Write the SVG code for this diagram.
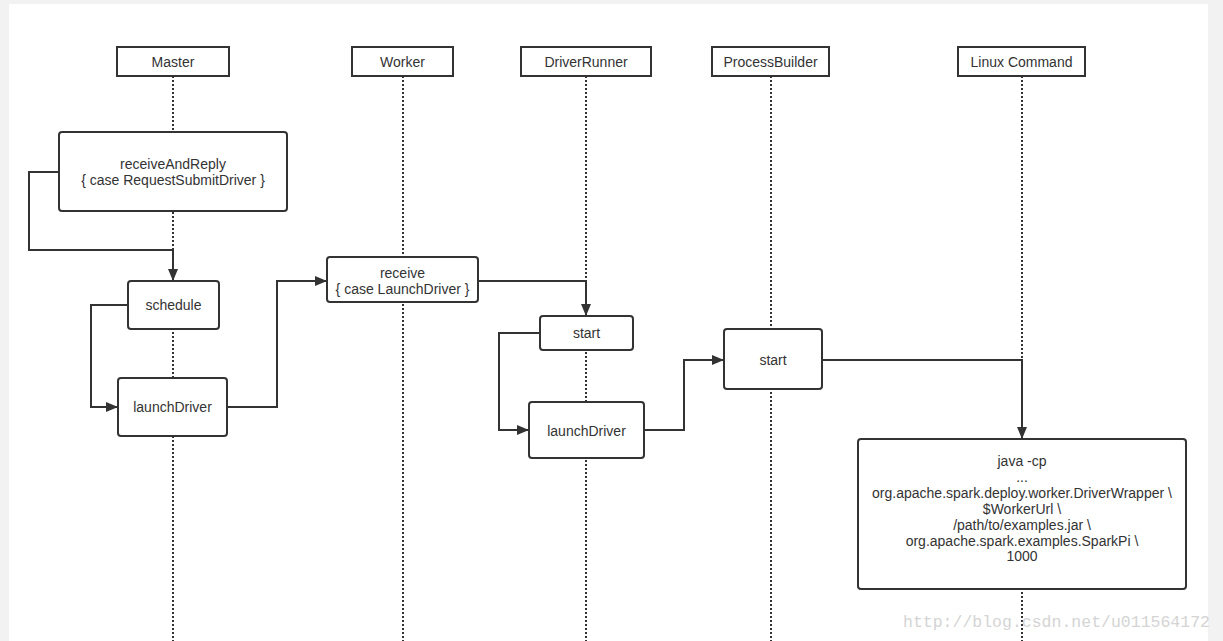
<svg xmlns="http://www.w3.org/2000/svg" width="1223" height="641" viewBox="0 0 1223 641">
<defs>
<marker id="arr" viewBox="0 0 12 10" refX="12" refY="5" markerWidth="12" markerHeight="10" markerUnits="userSpaceOnUse" orient="auto">
<path d="M0,0 L12,5 L0,10 z" fill="#333"/>
</marker>
<style>
.bg{fill:#f2f2f2}
.canvas{fill:#fff}
.head{fill:#fff;stroke:#333;stroke-width:2}
.box{fill:#fff;stroke:#333;stroke-width:2}
.life{stroke:#333;stroke-width:2;stroke-dasharray:2 2;fill:none}
.conn{stroke:#333;stroke-width:2;fill:none;marker-end:url(#arr)}
text{font-family:"Liberation Sans",Arial,sans-serif;font-size:14px;fill:#333;text-anchor:middle}
.wm{font-family:"Liberation Mono","Courier New",monospace;font-size:16.5px;fill:#d4d4d4;text-anchor:start}
</style>
</defs>
<rect class="bg" x="0" y="0" width="1223" height="641"/>
<rect class="canvas" x="9" y="4" width="1199" height="637"/>
<g id="lifelines">
<line class="life" x1="173" y1="76" x2="173" y2="641"/>
<line class="life" x1="403" y1="76" x2="403" y2="641"/>
<line class="life" x1="586" y1="76" x2="586" y2="641"/>
<line class="life" x1="771" y1="76" x2="771" y2="641"/>
<line class="life" x1="1022" y1="76" x2="1022" y2="641"/>
</g>
<g id="master"><rect class="head" x="117" y="47" width="112" height="29"/><text x="173" y="67">Master</text></g>
<g id="worker"><rect class="head" x="352" y="47" width="101" height="29"/><text x="402.5" y="67">Worker</text></g>
<g id="driverrunner"><rect class="head" x="521" y="47" width="130" height="29"/><text x="586" y="67">DriverRunner</text></g>
<g id="processbuilder"><rect class="head" x="712" y="47" width="117" height="29"/><text x="770.5" y="67">ProcessBuilder</text></g>
<g id="linuxcommand"><rect class="head" x="958" y="47" width="127" height="29"/><text x="1021.5" y="67">Linux Command</text></g>
<g id="receiveAndReply"><rect class="box" x="59" y="132" width="228" height="79" rx="3"/><text x="173" y="169">receiveAndReply</text><text x="173" y="185">{ case RequestSubmitDriver }</text></g>
<g id="schedule"><rect class="box" x="128" y="281" width="91" height="48" rx="3"/><text x="173.5" y="310">schedule</text></g>
<g id="launchDriverMaster"><rect class="box" x="118" y="378" width="109" height="58" rx="3"/><text x="172.5" y="412">launchDriver</text></g>
<g id="receive"><rect class="box" x="327" y="257" width="151" height="45" rx="3"/><text x="402.5" y="278">receive</text><text x="402.5" y="294">{ case LaunchDriver }</text></g>
<g id="startDR"><rect class="box" x="540" y="316" width="93" height="34" rx="3"/><text x="586.5" y="338">start</text></g>
<g id="launchDriverDR"><rect class="box" x="529" y="402" width="115" height="56" rx="3"/><text x="586.5" y="436">launchDriver</text></g>
<g id="startPB"><rect class="box" x="724" y="329" width="98" height="60" rx="3"/><text x="773" y="365">start</text></g>
<g id="javacmd"><rect class="box" x="858" y="439" width="328" height="150" rx="3"/>
<text x="1022" y="466">java -cp</text>
<text x="1022" y="482">...</text>
<text x="1022" y="498">org.apache.spark.deploy.worker.DriverWrapper \</text>
<text x="1022" y="514">$WorkerUrl \</text>
<text x="1022" y="530">/path/to/examples.jar \</text>
<text x="1022" y="546">org.apache.spark.examples.SparkPi \</text>
<text x="1022" y="561">1000</text>
</g>
<g id="connectors">
<path class="conn" d="M59,172 H29 V250 H173 V281"/>
<path class="conn" d="M128,305 H91 V407 H118"/>
<path class="conn" d="M227,407 H277 V281 H327"/>
<path class="conn" d="M478,281 H586 V316"/>
<path class="conn" d="M540,333 H499 V430 H529"/>
<path class="conn" d="M644,430 H684 V360 H724"/>
<path class="conn" d="M822,360 H1022 V439"/>
</g>
<text class="wm" x="903" y="627">http://blog.csdn.net/u011564172</text>
</svg>
